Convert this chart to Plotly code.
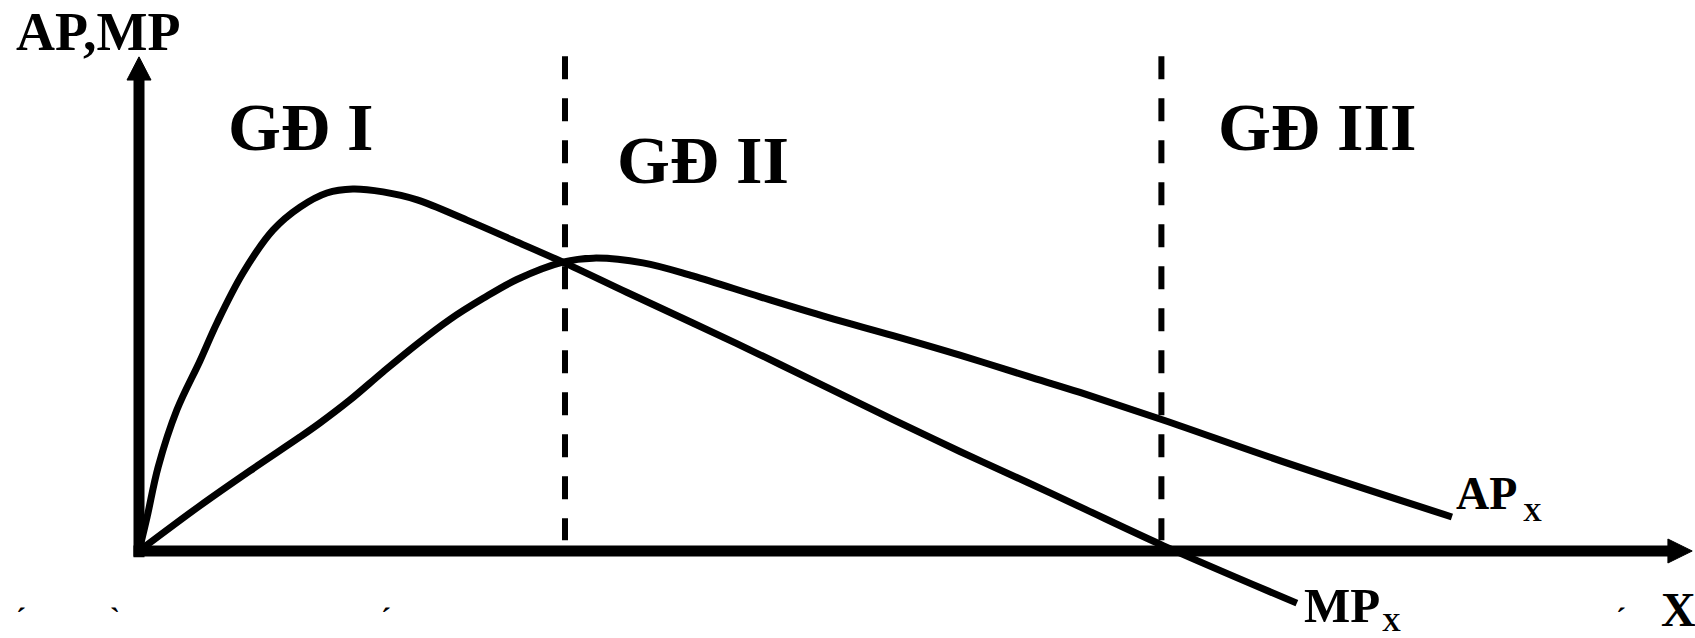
import plotly.graph_objects as go

# ---------------- data (economic units) ----------------
MP_x = [0, 0.19, 0.45, 0.89, 1.43, 1.83, 2.44, 3.15, 3.78, 4.41, 5.02, 5.73, 6.53, 7.70,
        8.87, 9.95, 11.46, 13.00, 14.58, 16.15, 17.70, 19.27, 20.85, 22.09, 24.04, 27.18]
MP_y = [0, 0.94, 2.32, 3.90, 5.25, 6.30, 7.68, 8.87, 9.50, 9.89, 10.0, 9.92, 9.70, 9.14,
        8.54, 7.98, 7.14, 6.30, 5.42, 4.52, 3.63, 2.75, 1.90, 1.22, 0.15, -1.44]

AP_x = [0, 1.43, 2.61, 3.78, 4.25, 4.95, 5.73, 6.53, 7.30, 8.08, 8.87, 9.95, 10.66, 11.83,
        13.00, 14.58, 16.15, 17.70, 19.27, 20.85, 22.09, 24.04, 26.85, 30.82]
AP_y = [0, 1.25, 2.22, 3.15, 3.54, 4.17, 4.95, 5.72, 6.40, 6.98, 7.50, 7.98, 8.09, 7.96,
        7.60, 7.02, 6.46, 5.95, 5.41, 4.83, 4.38, 3.62, 2.47, 0.94]

STAGE_BOUNDS = [10.0, 24.0]          # dashed separators between stages
STAGE_LABELS = ["GĐ I", "GĐ II", "GĐ III"]
STAGE_LABEL_X = [3.80, 13.25, 27.65]
STAGE_LABEL_Y = [11.70, 10.80, 11.70]

# axis extents (data units)
X_RANGE = [-3.263, 36.526]
Y_RANGE = [-2.403, 15.221]
X_AXIS_END = 35.89
X_ARROW_TIP = 36.46
Y_AXIS_END = 13.01
Y_ARROW_TIP = 13.65
DASH_TOP = 13.67
DASH_BOTTOM = 0.30

FONT = "Liberation Serif"

fig = go.Figure()

fig.add_trace(go.Scatter(x=MP_x, y=MP_y, mode="lines", name="MPx",
                         line=dict(color="black", width=7, shape="spline", smoothing=1.0)))
fig.add_trace(go.Scatter(x=AP_x, y=AP_y, mode="lines", name="APx",
                         line=dict(color="black", width=7, shape="spline", smoothing=1.0)))

shapes = []
# dashed stage separators
for xb in STAGE_BOUNDS:
    shapes.append(dict(type="line", xref="x", yref="y", x0=xb, x1=xb, y0=DASH_TOP, y1=DASH_BOTTOM,
                       line=dict(color="black", width=6, dash="23px,19px")))
# x axis
shapes.append(dict(type="line", xref="x", yref="y", x0=-0.13, x1=X_AXIS_END + 0.05, y0=0, y1=0,
                   line=dict(color="black", width=11)))
shapes.append(dict(type="path", xref="x", yref="y",
                   path=f"M {X_AXIS_END},{0.331} L {X_ARROW_TIP},0 L {X_AXIS_END},{-0.331} Z",
                   fillcolor="black", line=dict(color="black", width=1)))
# y axis
shapes.append(dict(type="line", xref="x", yref="y", x0=0, x1=0, y0=-0.17, y1=Y_AXIS_END + 0.05,
                   line=dict(color="black", width=11)))
shapes.append(dict(type="path", xref="x", yref="y",
                   path=f"M {-0.282},{Y_AXIS_END} L 0,{Y_ARROW_TIP} L {0.282},{Y_AXIS_END} Z",
                   fillcolor="black", line=dict(color="black", width=1)))

annotations = []
def label(text, x, y, size):
    annotations.append(dict(text=text, x=x, y=y, xref="x", yref="y", showarrow=False,
                            xanchor="center", yanchor="middle",
                            font=dict(family=FONT, size=size, color="black", weight="bold")))

label("AP,MP", -0.962, 14.34, 54)
for t, lx, ly in zip(STAGE_LABELS, STAGE_LABEL_X, STAGE_LABEL_Y):
    label(t, lx, ly, 68)
label("AP", 31.62, 1.60, 46)
label("X", 32.70, 1.06, 26)
label("MP", 28.24, -1.50, 49)
label("X", 29.41, -1.98, 26)
label("X", 36.13, -1.62, 48)
# fragments of a cut-off line at the bottom edge
for ch, ax in zip(["´", "`", "´", "´"], [-2.77, -0.56, 5.80, 34.79]):
    annotations.append(dict(text=ch, x=ax, y=Y_RANGE[0] + 0.05, xref="x", yref="y", showarrow=False,
                            xanchor="center", yanchor="bottom",
                            font=dict(family=FONT, size=30, color="black", weight="bold")))

fig.update_layout(
    width=1695, height=638,
    margin=dict(l=0, r=0, t=0, b=0),
    paper_bgcolor="white", plot_bgcolor="white",
    showlegend=False,
    shapes=shapes, annotations=annotations,
    xaxis=dict(range=X_RANGE, visible=False, fixedrange=True),
    yaxis=dict(range=Y_RANGE, visible=False, fixedrange=True),
)

fig.write_html("out.html", config={"displayModeBar": False},
               post_script="document.body.style.margin='0';document.body.style.overflow='hidden';")
